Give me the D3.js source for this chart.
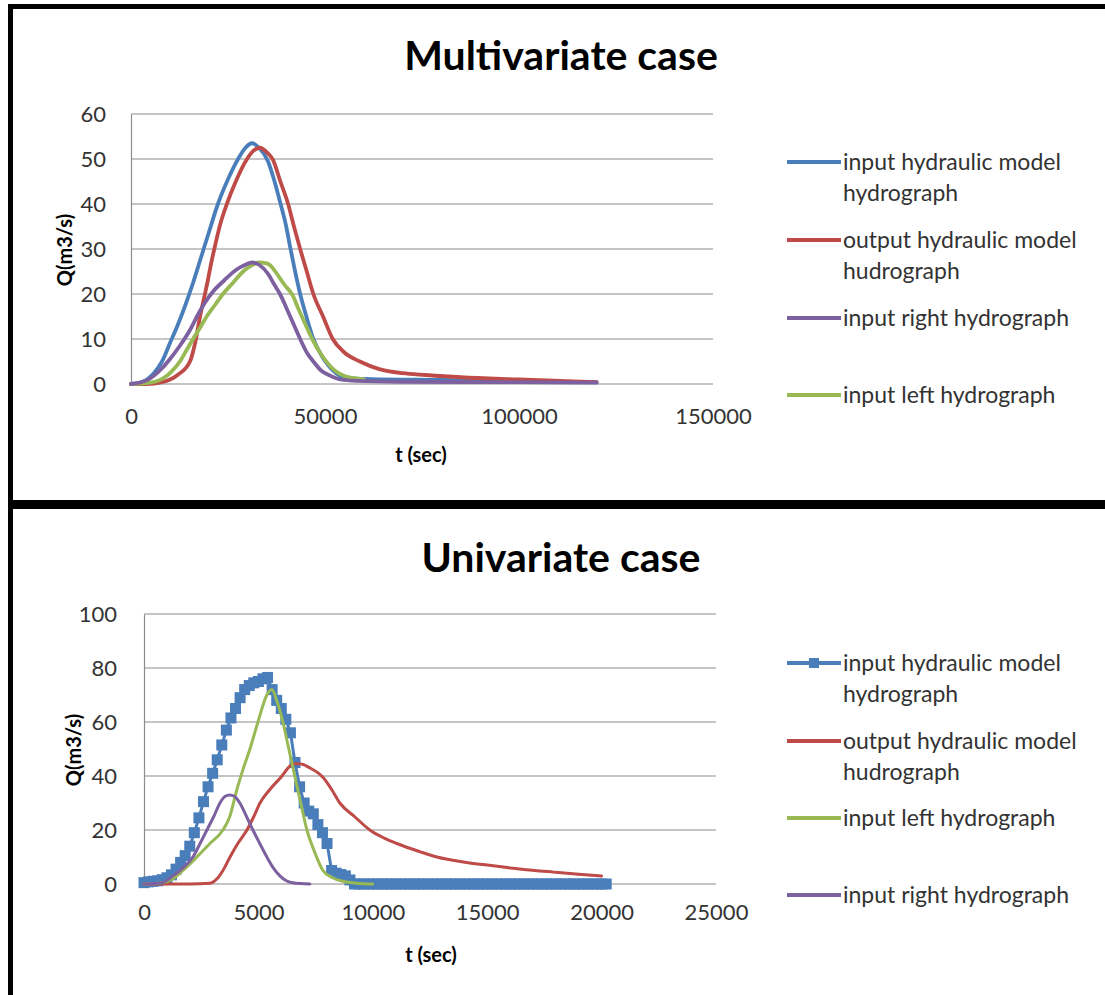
<!DOCTYPE html>
<html>
<head>
<meta charset="utf-8">
<script src="https://cdn.jsdelivr.net/npm/d3@7"></script>
<style>
  body { margin: 0; background: #fff; }
  svg { display: block; font-family: Lato, "Open Sans", sans-serif; }
</style>
</head>
<body>
<div id="chart"></div>
<script>
// ---- multivariate case: [t (sec), Q (m3/s)] ----
const multiInputHydraulic = [[0,0],[3000,0.5],[6000,2.5],[8000,5],[10000,9],[12000,13],[14000,17.5],[16000,22.5],[18000,28],[20000,33.5],[22400,40],[25000,45.5],[27600,50],[29500,52.5],[31200,53.5],[33000,52.5],[35300,49.5],[37000,45],[38400,40.5],[40000,35],[41000,30.5],[42300,25],[43600,20],[45200,15],[47000,10],[49000,6.5],[51000,4],[53000,2.3],[55000,1.5],[58000,1.2],[62000,1.1],[80000,0.9],[100000,0.6],[120000,0.4]];
const multiOutputHydraulic = [[0,0],[4000,0],[8000,0.4],[12000,2],[15200,5],[16500,9],[17800,15],[18800,19],[19800,23],[20700,27],[21600,30.5],[23000,35.5],[24700,40],[27000,45],[29900,50],[31500,51.8],[33200,52.5],[35000,51.5],[36600,49.8],[38500,45],[40500,40],[42000,35],[43600,30],[45300,25],[47000,20],[49500,15],[52000,10],[55000,7],[59000,5],[64000,3.3],[70000,2.4],[76000,2],[85000,1.5],[100000,1],[120000,0.4]];
const multiInputRight = [[0,0],[4000,0.8],[8000,3.5],[10000,5.5],[12600,8.5],[15200,12],[17300,15.5],[19000,18],[21100,20.5],[24000,23],[27300,25.5],[29500,26.5],[31200,27],[33000,26.5],[35300,24.5],[37000,22],[38400,20],[40000,17],[41800,13.5],[43600,10],[45300,7],[47000,5],[49000,3],[51000,2],[54000,1],[58000,0.7],[70000,0.5],[100000,0.4],[120000,0.3]];
const multiInputLeft = [[0,0],[4000,0.2],[8200,1.2],[10500,2.8],[12600,5],[14300,7.5],[16000,10],[17800,12.5],[19500,15],[21600,17.5],[23700,20],[26300,22.5],[28900,25],[31000,26.3],[33000,27],[35000,26.8],[36500,25.8],[37600,24.5],[39600,22],[41800,19.5],[43000,17],[44300,14.5],[45600,12],[47000,9.5],[48700,7],[50500,4.8],[52500,3],[55000,1.8],[57500,1.3],[60000,1.1]];
const multiXTicks = [0, 50000, 100000, 150000];
const multiYTicks = [0, 10, 20, 30, 40, 50, 60];

// ---- univariate case ----
// input hydraulic model hydrograph, one value every 200 s starting at t = 0
const uniStep = 200;
const uniInputHydraulicQ = [0.5,0.8,1,1.2,1.6,2.3,3.4,5.5,8,10.5,14,19,24.5,30.5,36,41,46,51.5,57,61.5,65,69,72,73.5,74.5,75,76,76.5,72,68,65,61,56,45,36,30,27,26,22,19,15,5,4,3.5,3,1.5,
  0,0,0,0,0,0,0,0,0,0,0,0,0,0,0,0,0,0,0,0,0,0,0,0,0,0,0,0,0,0,0,0,0,0,0,0,0,0,0,0,0,0,0,0,0,0,0,0,0,0,0,0,0,0,0,0];
const uniOutputHydraulic = [[0,0],[1000,0],[2000,0],[2880,0.3],[3200,2],[3450,5],[3760,10],[4100,15],[4500,20],[4800,25],[5070,30],[5500,35],[6030,40],[6300,43],[6510,44.5],[6800,44.5],[7250,43],[7820,39.5],[8200,35],[8560,30],[9200,25],[9870,20],[10500,17],[11050,15],[12050,12],[12800,10],[14100,8],[15000,7],[16500,5.5],[17900,4.4],[19000,3.6],[20000,3]];
const uniInputLeft = [[0,0],[800,0.5],[1270,2],[1700,5],[2310,10],[2880,15],[3450,20],[3750,25],[4060,35],[4350,43],[4630,50],[4980,60],[5370,70],[5590,72],[5800,68],[6070,60],[6330,50],[6590,40],[6850,30],[7120,20],[7450,12],[7820,5],[8200,2.5],[8690,1],[9300,0.3],[10000,0]];
const uniInputRight = [[0,0],[800,0.5],[1270,3],[1700,6],[2140,10],[2450,15],[2750,20],[3050,25],[3320,30],[3550,32.5],[3750,33],[3950,32.5],[4190,30],[4480,25],[4760,20],[5060,15],[5370,10],[5650,6],[5940,3],[6200,1.3],[6500,0.5],[7250,0]];
const uniXTicks = [0, 5000, 10000, 15000, 20000, 25000];
const uniYTicks = [0, 20, 40, 60, 80, 100];

const legendNames = {
  inHyd: ["input hydraulic model", "hydrograph"],
  outHyd: ["output hydraulic model", "hudrograph"],
  right: ["input right hydrograph"],
  left: ["input left hydrograph"]
};
const colors = {inHyd: "#4a7ebb", outHyd: "#be4b48", right: "#7d60a0", left: "#98b954"};

const W = 1105, H = 995;
const svg = d3.select("#chart").append("svg").attr("width", W).attr("height", H);

// panel frames
svg.append("rect").attr("x", 10.5).attr("y", 6.5).attr("width", W + 20).attr("height", 496)
  .attr("fill", "none").attr("stroke", "#000").attr("stroke-width", 5);
svg.append("rect").attr("x", 10.5).attr("y", 506.5).attr("width", W + 20).attr("height", 520)
  .attr("fill", "none").attr("stroke", "#000").attr("stroke-width", 5);

function drawChart(cfg) {
  const g = svg.append("g");
  const x = d3.scaleLinear().domain(cfg.xDomain).range(cfg.xRange);
  const y = d3.scaleLinear().domain(cfg.yDomain).range(cfg.yRange);

  g.append("text").attr("x", cfg.titleX).attr("y", cfg.titleY)
    .attr("text-anchor", "middle").attr("font-size", 41).attr("font-weight", "bold")
    .attr("fill", "#000").text(cfg.title);

  // horizontal gridlines
  g.append("g").selectAll("line").data(cfg.yTicks).join("line")
    .attr("x1", x.range()[0]).attr("x2", x.range()[1])
    .attr("y1", d => y(d)).attr("y2", d => y(d))
    .attr("stroke", "#8c8c8c").attr("stroke-width", 1.2);

  // y axis
  const yAxis = g.append("g").attr("transform", `translate(${x.range()[0]},0)`)
    .call(d3.axisLeft(y).tickValues(cfg.yTicks).tickSize(0).tickPadding(cfg.yPad));
  yAxis.select(".domain").attr("stroke", "#8c8c8c").attr("stroke-width", 1.2);
  yAxis.selectAll("text").attr("font-size", 22).attr("fill", "#333").attr("font-family", "Lato, sans-serif");

  // x axis
  const xAxis = g.append("g").attr("transform", `translate(0,${y.range()[0]})`)
    .call(d3.axisBottom(x).tickValues(cfg.xTicks).tickSize(0).tickPadding(cfg.xPad).tickFormat(d3.format("d")));
  xAxis.select(".domain").remove();
  xAxis.selectAll("text").attr("font-size", 22).attr("fill", "#333").attr("font-family", "Lato, sans-serif");

  g.append("text").attr("transform", `translate(${cfg.yTitleX},${cfg.yTitleY}) rotate(-90)`)
    .attr("text-anchor", "middle").attr("font-size", 20).attr("font-weight", "bold").text("Q(m3/s)");
  g.append("text").attr("x", cfg.xTitleX).attr("y", cfg.xTitleY)
    .attr("text-anchor", "middle").attr("font-size", 20).attr("font-weight", "bold").text("t (sec)");

  const line = d3.line().x(d => x(d[0])).y(d => y(d[1]));

  cfg.series.forEach(s => {
    line.curve(s.markers ? d3.curveLinear : d3.curveMonotoneX);
    g.append("path").datum(s.data)
      .attr("d", line)
      .attr("fill", "none").attr("stroke", colors[s.key]).attr("stroke-width", s.width)
      .attr("stroke-linejoin", "round").attr("stroke-linecap", "round");
    if (s.markers) {
      g.append("g").selectAll("rect").data(s.data).join("rect")
        .attr("x", d => x(d[0]) - 5.5).attr("y", d => y(d[1]) - 5.5)
        .attr("width", 11).attr("height", 11).attr("fill", colors[s.key]);
    }
  });

  // legend
  const lg = g.append("g");
  cfg.legend.forEach(item => {
    const s = cfg.series.find(d => d.key === item.key);
    lg.append("line").attr("x1", 787).attr("x2", 841).attr("y1", item.y).attr("y2", item.y)
      .attr("stroke", colors[item.key]).attr("stroke-width", 4);
    if (s.markers) {
      lg.append("rect").attr("x", 809).attr("y", item.y - 5).attr("width", 10).attr("height", 10)
        .attr("fill", colors[item.key]);
    }
    legendNames[item.key].forEach((t, i) => {
      lg.append("text").attr("x", 843).attr("y", item.y + 8 + i * 31)
        .attr("font-size", 23).attr("fill", "#333").text(t);
    });
  });
}

drawChart({
  title: "Multivariate case", titleX: 561, titleY: 70,
  xDomain: [0, 150000], xRange: [131, 713],
  yDomain: [0, 60], yRange: [384, 114],
  xTicks: multiXTicks, yTicks: multiYTicks, yPad: 25, xPad: 24,
  yTitleX: 72, yTitleY: 250, xTitleX: 421, xTitleY: 462,
  series: [
    {key: "inHyd", data: multiInputHydraulic, width: 3.8},
    {key: "outHyd", data: multiOutputHydraulic, width: 3.8},
    {key: "left", data: multiInputLeft, width: 3.8},
    {key: "right", data: multiInputRight, width: 3.8}
  ],
  legend: [{key: "inHyd", y: 162}, {key: "outHyd", y: 240}, {key: "right", y: 318}, {key: "left", y: 395}]
});

drawChart({
  title: "Univariate case", titleX: 561, titleY: 572,
  xDomain: [0, 25000], xRange: [144, 716],
  yDomain: [0, 100], yRange: [884, 614],
  xTicks: uniXTicks, yTicks: uniYTicks, yPad: 27, xPad: 20,
  yTitleX: 81, yTitleY: 750, xTitleX: 431, xTitleY: 962,
  series: [
    {key: "inHyd", data: uniInputHydraulicQ.map((q, i) => [i * uniStep, q]), width: 3, markers: true},
    {key: "outHyd", data: uniOutputHydraulic, width: 3},
    {key: "left", data: uniInputLeft, width: 3},
    {key: "right", data: uniInputRight, width: 3}
  ],
  legend: [{key: "inHyd", y: 663}, {key: "outHyd", y: 741}, {key: "left", y: 818}, {key: "right", y: 895}]
});
</script>
</body>
</html>
